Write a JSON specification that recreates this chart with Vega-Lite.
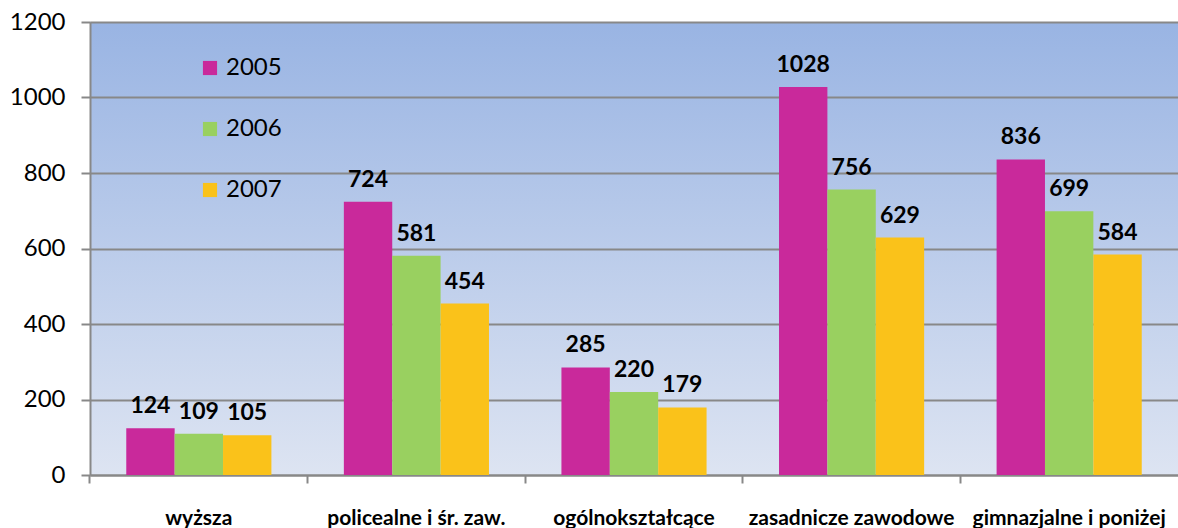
{
  "$schema": "https://vega.github.io/schema/vega-lite/v6.json",
  "autosize": {"type": "none"},
  "padding": {"left": 90, "top": 22, "right": 0, "bottom": 53},
  "width": 1088,
  "height": 453,
  "background": "white",
  "config": {
    "font": "Lato",
    "view": {
      "stroke": null,
      "fill": {"gradient": "linear", "x1": 0, "y1": 0, "x2": 0, "y2": 1,
        "stops": [{"offset": 0, "color": "#99b4e3"}, {"offset": 1, "color": "#dde4f2"}]}
    }
  },
  "data": {"values": [
    {"cat": "wyższa", "year": "2005", "value": 124},
    {"cat": "wyższa", "year": "2006", "value": 109},
    {"cat": "wyższa", "year": "2007", "value": 105},
    {"cat": "policealne i śr. zaw.", "year": "2005", "value": 724},
    {"cat": "policealne i śr. zaw.", "year": "2006", "value": 581},
    {"cat": "policealne i śr. zaw.", "year": "2007", "value": 454},
    {"cat": "ogólnokształcące", "year": "2005", "value": 285},
    {"cat": "ogólnokształcące", "year": "2006", "value": 220},
    {"cat": "ogólnokształcące", "year": "2007", "value": 179},
    {"cat": "zasadnicze zawodowe", "year": "2005", "value": 1028},
    {"cat": "zasadnicze zawodowe", "year": "2006", "value": 756},
    {"cat": "zasadnicze zawodowe", "year": "2007", "value": 629},
    {"cat": "gimnazjalne i poniżej", "year": "2005", "value": 836},
    {"cat": "gimnazjalne i poniżej", "year": "2006", "value": 699},
    {"cat": "gimnazjalne i poniżej", "year": "2007", "value": 584}
  ]},
  "encoding": {
    "x": {"field": "cat", "type": "nominal", "sort": null,
      "scale": {"paddingInner": 0.333, "paddingOuter": 0.1667},
      "axis": {"title": null, "labelAngle": 0, "labelFont": "Lato", "labelFontWeight": "bold", "labelFontSize": 21,
        "labelColor": "black", "labelPadding": 24, "labelLimit": 400, "labelOverlap": false,
        "bandPosition": -0.25, "tickColor": "#888888", "tickWidth": 2, "tickSize": 8,
        "domainColor": "#888888", "domainWidth": 2}},
    "xOffset": {"field": "year", "type": "nominal", "scale": {"paddingInner": 0, "paddingOuter": 0}},
    "y": {"field": "value", "type": "quantitative",
      "scale": {"domain": [0, 1200], "nice": false},
      "axis": {"title": null, "values": [0, 200, 400, 600, 800, 1000, 1200], "format": "d",
        "labelFont": "Lato", "labelFontSize": 24, "labelColor": "black", "labelPadding": 16,
        "tickColor": "#888888", "tickWidth": 2, "tickSize": 9,
        "domainColor": "#888888", "domainWidth": 2,
        "grid": true, "gridColor": "#888888", "gridWidth": 2}}
  },
  "layer": [
    {
      "mark": {"type": "bar"},
      "encoding": {
        "color": {"field": "year", "type": "nominal",
          "scale": {"domain": ["2005", "2006", "2007"], "range": ["#c9299b", "#99d060", "#fac21a"]},
          "legend": {"title": null, "orient": "none", "legendX": 108, "legendY": 34,
            "symbolType": "square", "symbolSize": 200, "symbolStrokeWidth": 0,
            "labelFont": "Lato", "labelFontSize": 24, "labelColor": "black",
            "rowPadding": 37, "labelOffset": 4}}
      }
    },
    {
      "mark": {"type": "text", "baseline": "bottom", "dy": -10, "font": "Lato", "fontWeight": "bold", "fontSize": 23, "color": "black"},
      "encoding": {"text": {"field": "value", "type": "quantitative"}}
    }
  ]
}
